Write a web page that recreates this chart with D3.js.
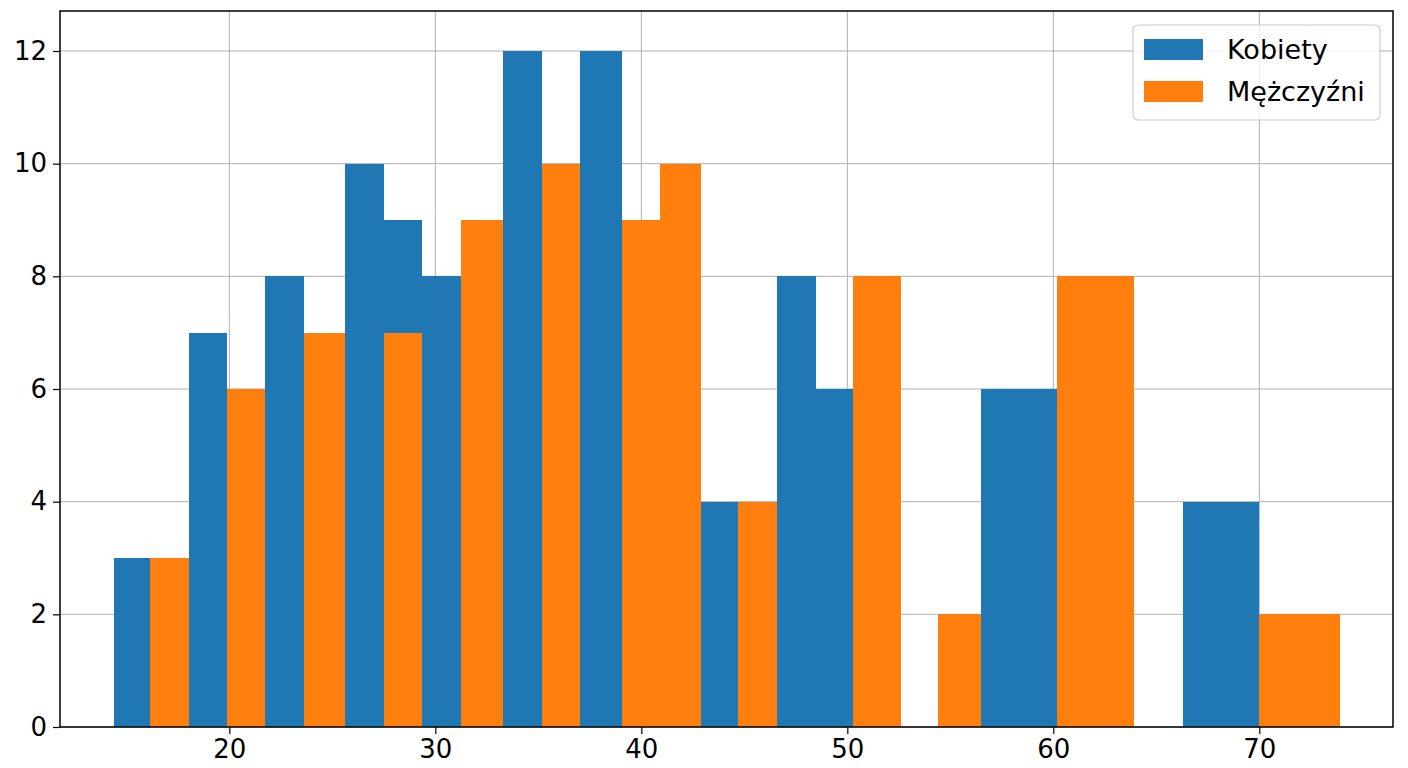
<!DOCTYPE html>
<html>
<head>
<meta charset="utf-8">
<script src="https://cdn.jsdelivr.net/npm/d3@7"></script>
<style>
  html, body { margin: 0; padding: 0; background: #fff; }
  svg { display: block; }
  text { font-family: "DejaVu Sans", sans-serif; }
</style>
</head>
<body>
<svg id="chart" width="1408" height="768"></svg>
<script>
// ---- data (bin start, bin end, count) ----
const seriesNames = ["Kobiety", "Mężczyźni"];
const seriesColors = ["#1f77b4", "#ff7f0e"];
const kobietyStart = [14.42, 18.04, 21.72, 25.62, 27.51, 29.37, 33.28, 37.0, 42.9, 46.6, 48.5, 56.5, 66.3];
const kobietyEnd   = [16.15, 19.88, 23.63, 27.51, 29.37, 31.25, 35.16, 39.06, 44.7, 48.5, 50.3, 60.2, 70.0];
const kobietyCount = [3, 7, 8, 10, 9, 8, 12, 12, 4, 8, 6, 6, 4];
const mezczyzniStart = [16.15, 19.88, 23.63, 27.51, 31.25, 35.16, 39.06, 40.9, 44.7, 50.3, 54.4, 60.2, 70.0];
const mezczyzniEnd   = [18.04, 21.72, 25.62, 29.37, 33.28, 37.0, 40.9, 42.9, 46.6, 52.6, 56.5, 63.9, 73.9];
const mezczyzniCount = [3, 6, 7, 7, 9, 10, 9, 10, 4, 8, 2, 8, 2];
const xTicks = [20, 30, 40, 50, 60, 70];
const yTicks = [0, 2, 4, 6, 8, 10, 12];
const xDomain = [11.78, 76.49];
const yDomain = [0, 12.71];

// ---- layout ----
const W = 1408, H = 768;
const m = { left: 60, right: 15, top: 11, bottom: 41 };
const svg = d3.select("#chart");
const x = d3.scaleLinear().domain(xDomain).range([m.left, W - m.right]);
const y = d3.scaleLinear().domain(yDomain).range([H - m.bottom, m.top]);

// grid
const grid = svg.append("g").attr("stroke", "#b0b0b0").attr("stroke-width", 1);
grid.selectAll("line.gx").data(xTicks).join("line")
  .attr("x1", d => x(d)).attr("x2", d => x(d))
  .attr("y1", y.range()[0]).attr("y2", y.range()[1]);
grid.selectAll("line.gy").data(yTicks).join("line")
  .attr("y1", d => y(d)).attr("y2", d => y(d))
  .attr("x1", x.range()[0]).attr("x2", x.range()[1]);

// bars
function bars(starts, ends, counts, color) {
  const data = starts.map((s, i) => ({ s, e: ends[i], c: counts[i] }));
  svg.append("g").attr("shape-rendering", "crispEdges")
    .selectAll("rect").data(data).join("rect")
    .attr("x", d => x(d.s))
    .attr("width", d => x(d.e) - x(d.s))
    .attr("y", d => y(d.c))
    .attr("height", d => y(0) - y(d.c))
    .attr("fill", color);
}
bars(kobietyStart, kobietyEnd, kobietyCount, seriesColors[0]);
bars(mezczyzniStart, mezczyzniEnd, mezczyzniCount, seriesColors[1]);

// axes
const xAxis = svg.append("g").attr("transform", `translate(0,${y(0)})`)
  .call(d3.axisBottom(x).tickValues(xTicks).tickSize(7).tickPadding(6).tickFormat(d3.format("d")));
const yAxis = svg.append("g").attr("transform", `translate(${x.range()[0]},0)`)
  .call(d3.axisLeft(y).tickValues(yTicks).tickSize(7).tickPadding(6).tickFormat(d3.format("d")));
[xAxis, yAxis].forEach(a => {
  a.select(".domain").remove();
  a.selectAll(".tick line").attr("stroke", "#000").attr("stroke-width", 1.2);
  a.selectAll(".tick text").attr("fill", "#000").style("font-size", "26px")
    .style("font-family", "'DejaVu Sans', sans-serif");
});

// frame
svg.append("rect")
  .attr("x", x.range()[0]).attr("y", y.range()[1])
  .attr("width", x.range()[1] - x.range()[0])
  .attr("height", y.range()[0] - y.range()[1])
  .attr("fill", "none").attr("stroke", "#000").attr("stroke-width", 1.5);

// legend
const lg = svg.append("g").attr("transform", "translate(1133,25)");
lg.append("rect").attr("width", 247).attr("height", 95).attr("rx", 5)
  .attr("fill", "#fff").attr("fill-opacity", 0.8)
  .attr("stroke", "#cccccc").attr("stroke-width", 1.2);
seriesNames.forEach((n, i) => {
  const row = lg.append("g").attr("transform", `translate(11,${14 + i * 42})`);
  row.append("rect").attr("width", 59).attr("height", 21).attr("fill", seriesColors[i]);
  row.append("text").attr("x", 83).attr("y", 20).text(n)
    .style("font-size", "27px").attr("fill", "#000");
});
</script>
</body>
</html>
